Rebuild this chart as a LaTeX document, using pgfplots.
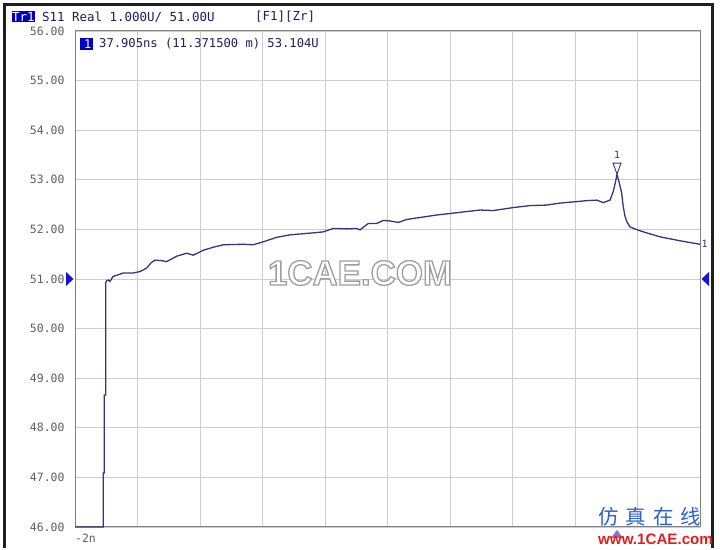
\documentclass[border=0pt]{standalone}
\usepackage{pgfplots}
\pgfplotsset{compat=1.18}
\usepackage{fontspec}
\setmainfont{DejaVu Sans}
\newfontfamily\mono{DejaVu Sans Mono}
\newfontfamily\wm{Liberation Sans}
\newfontfamily\cjk{Noto Sans CJK SC}
\definecolor{trace}{RGB}{52,52,128}
\definecolor{hdr}{RGB}{30,30,90}
\definecolor{tickc}{RGB}{95,95,95}
\definecolor{gridc}{RGB}{205,205,205}
\definecolor{boxc}{RGB}{0,0,190}
\definecolor{refc}{RGB}{20,20,210}
\definecolor{stimc}{RGB}{120,120,210}
\definecolor{wmblue}{RGB}{40,100,205}
\definecolor{wmred}{RGB}{225,30,30}
\pgfdeclareplotmark{refR}{%
  \pgfpathmoveto{\pgfqpoint{-9bp}{-7bp}}\pgfpathlineto{\pgfqpoint{-1.5bp}{0bp}}%
  \pgfpathlineto{\pgfqpoint{-9bp}{7bp}}\pgfpathclose\pgfusepathqfill}
\pgfdeclareplotmark{refL}{%
  \pgfpathmoveto{\pgfqpoint{9bp}{-7bp}}\pgfpathlineto{\pgfqpoint{1.5bp}{0bp}}%
  \pgfpathlineto{\pgfqpoint{9bp}{7bp}}\pgfpathclose\pgfusepathqfill}
\pgfdeclareplotmark{stim}{%
  \pgfpathmoveto{\pgfqpoint{-6bp}{-11bp}}\pgfpathlineto{\pgfqpoint{0bp}{-3bp}}%
  \pgfpathlineto{\pgfqpoint{6bp}{-11bp}}\pgfpathclose\pgfusepathqfill}
\pgfdeclareplotmark{mkr}{%
  \pgfpathmoveto{\pgfqpoint{0bp}{0.5bp}}\pgfpathlineto{\pgfqpoint{-4bp}{11.5bp}}%
  \pgfpathlineto{\pgfqpoint{4bp}{11.5bp}}\pgfpathclose\pgfusepathqstroke}
\begin{document}
\begin{tikzpicture}[x=1bp,y=1bp]
\fill[white] (0,0) rectangle (720,548);
% window frame
\draw[line width=3bp, black!88] (4,0) -- (4,543) -- (712,543) -- (712,0);
% header
\node[anchor=west, inner sep=0pt, fill=boxc, text=white, font=\mono\fontsize{12.5}{13}\selectfont, minimum height=11bp] at (12,531) {Tr1};
\node[anchor=west, inner sep=0pt, text=hdr, font=\mono\fontsize{12.5}{13}\selectfont] at (42,531) {S11 Real 1.000U/ 51.00U};
\node[anchor=west, inner sep=0pt, text=hdr, font=\mono\fontsize{12.5}{13}\selectfont] at (255,531) {[F1][Zr]};
\begin{axis}[
  at={(75bp,21bp)}, anchor=south west,
  width=625bp, height=496bp, scale only axis,
  xmin=0, xmax=10, ymin=46, ymax=56,
  xtick={0,1,...,10},
  xticklabels={-2n,{},{},{},{},{},{},{},{},{},{}},
  ytick={46,47,...,56},
  yticklabels={46.00,47.00,48.00,49.00,50.00,51.00,52.00,53.00,54.00,55.00,56.00},
  major tick length=0pt,
  grid=major,
  grid style={gridc, line width=0.9bp},
  axis line style={black!50, line width=1bp},
  yticklabel style={font=\mono\fontsize{11.5}{12}\selectfont, text=tickc, anchor=east, xshift=-7bp},
  xticklabel style={font=\mono\fontsize{11.5}{12}\selectfont, text=tickc, anchor=north west, inner sep=0pt, yshift=-7bp},
  clip=false,
  axis on top=false,
]
\addplot[trace, line width=1.3bp, mark=none] coordinates {
(0,46) (0.453,46) (0.453,47.09) (0.469,47.09) (0.469,48.66) (0.491,48.66)
(0.491,50.92) (0.504,50.96) (0.533,50.98) (0.56,50.95) (0.608,51.05) (0.68,51.08) (0.768,51.12)
(0.928,51.12) (1.04,51.15) (1.147,51.22) (1.22,51.33) (1.28,51.38) (1.387,51.37)
(1.467,51.35) (1.627,51.46) (1.787,51.52) (1.893,51.48) (2.053,51.58)
(2.213,51.64) (2.373,51.69) (2.693,51.70) (2.853,51.69) (3.013,51.75)
(3.227,51.84) (3.44,51.89) (3.813,51.93) (3.973,51.95) (4.133,52.02)
(4.347,52.01) (4.507,52.02) (4.56,51.99) (4.693,52.12) (4.827,52.12)
(4.933,52.18) (5.04,52.17) (5.173,52.14) (5.307,52.20) (5.52,52.24)
(5.787,52.29) (6.0,52.32) (6.267,52.36) (6.48,52.39) (6.693,52.38)
(7.013,52.44) (7.28,52.48) (7.547,52.49) (7.76,52.53) (8.027,52.56)
(8.187,52.58) (8.347,52.59) (8.453,52.54) (8.56,52.59) (8.613,52.77)
(8.648,52.96) (8.672,53.104) (8.704,52.96) (8.747,52.73) (8.768,52.49)
(8.8,52.26) (8.832,52.15) (8.88,52.05) (8.976,52.0) (9.093,51.95)
(9.36,51.85) (9.68,51.77) (10.0,51.70)
};
% marker 1
\addplot[only marks, mark=mkr, mark options={draw=trace, line width=0.9bp}] coordinates {(8.672,53.104)};
\node[font=\mono\fontsize{10}{11}\selectfont, text=trace, inner sep=0pt] at (axis cs:8.672,53.104) [yshift=20bp] {1};
\node[font=\mono\fontsize{10}{11}\selectfont, text=trace, inner sep=0pt, anchor=west] at (axis cs:10,51.70) [xshift=1.5bp] {1};
% reference level indicators
\addplot[only marks, mark=refR, mark options={fill=refc, draw=none}] coordinates {(0,51)};
\addplot[only marks, mark=refL, mark options={fill=refc, draw=none}] coordinates {(10,51)};
\addplot[only marks, mark=stim, mark options={fill=stimc, draw=none}] coordinates {(8.672,46)};
\end{axis}
% marker readout
\node[anchor=west, inner sep=0pt, fill=boxc, text=white, font=\mono\fontsize{12}{13}\selectfont, minimum width=13bp, minimum height=12bp] at (80,504) {\,1};
\node[anchor=west, inner sep=0pt, text=hdr, font=\mono\fontsize{12.2}{13}\selectfont] at (99,504) {37.905ns (11.371500 m) 53.104U};
% watermark: white text with grey outline (fill+stroke render mode)
\node[font=\wm\bfseries\fontsize{35}{36}\selectfont, text=white] at (360,275) {\special{pdf:literal direct 0.62 G 1.3 w 2 Tr}1CAE.COM\special{pdf:literal direct 0 Tr}};
\node[anchor=west, inner sep=0pt, font=\cjk\fontsize{20.5}{21}\selectfont, text=wmblue] at (598,31) {仿\hspace{7bp}真\hspace{7bp}在\hspace{7bp}线};
\node[anchor=west, inner sep=0pt, font=\wm\bfseries\fontsize{15.2}{16}\selectfont, text=wmred] at (598,9) {www.1CAE.com};
\end{tikzpicture}
\end{document}
